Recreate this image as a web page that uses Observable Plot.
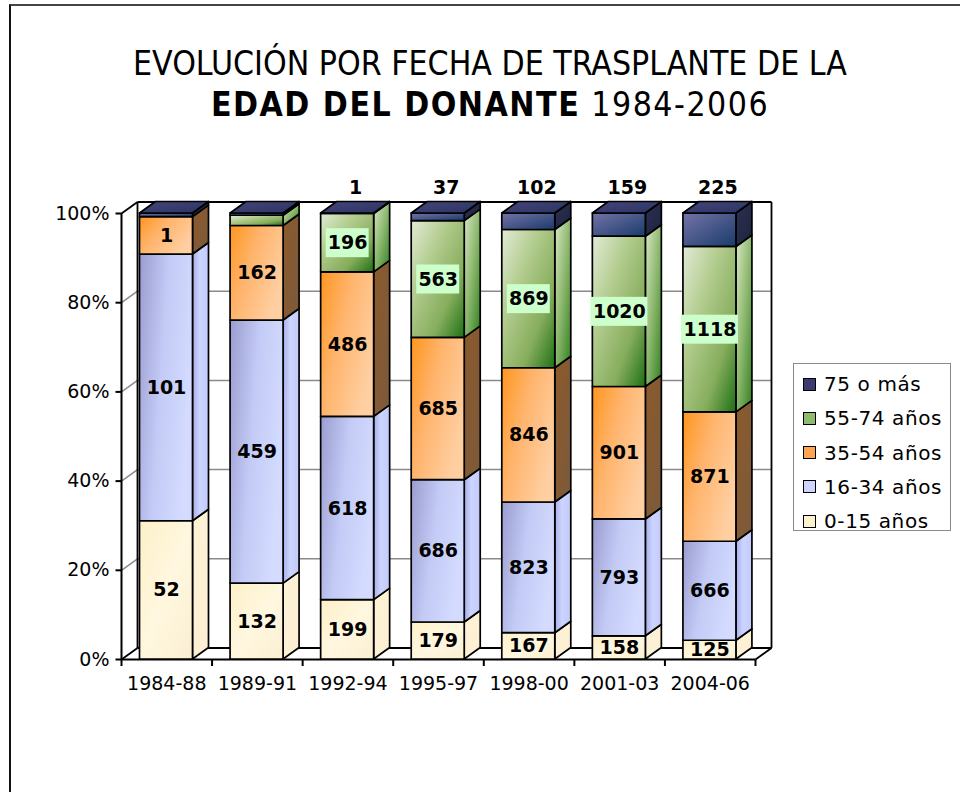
<!DOCTYPE html>
<html>
<head>
<meta charset="utf-8">
<script src="https://cdn.jsdelivr.net/npm/d3@7"></script>
<script src="https://cdn.jsdelivr.net/npm/@observablehq/plot@0.6"></script>
<style>
  body { margin: 0; background: #fff; }
  #page { position: relative; width: 960px; height: 792px; overflow: hidden; background: #fff; font-family: "DejaVu Sans", sans-serif; }
  #frame { position: absolute; left: 9px; top: 4px; width: 1200px; height: 1200px; border-left: 2px solid #111; border-top: 2px solid #444; }
  #title { position: absolute; left: 0; top: 43px; width: 980px; text-align: center; font-family: "Liberation Sans Narrow", "DejaVu Sans Condensed", "Liberation Sans", sans-serif; font-size: 33.5px; line-height: 41px; color: #000; }
  #title .l2 { letter-spacing: 1.5px; }
  #title b { font-weight: bold; }
  #chart { position: absolute; left: 0; top: 170px; }
  #legend { position: absolute; left: 793px; top: 363px; width: 158px; height: 168px; border: 1.5px solid #8a8a8a; box-sizing: border-box; background: #fff; }
  .item { position: absolute; left: 9px; height: 24px; display: flex; align-items: center; font-size: 20px; letter-spacing: 0.6px; color: #000; white-space: nowrap; }
  .sw { width: 13px; height: 13px; border: 1.5px solid #000; margin-right: 8px; box-sizing: border-box; }
</style>
</head>
<body>
<div id="page">
  <div id="frame"></div>
  <div id="title">EVOLUCIÓN POR FECHA DE TRASPLANTE DE LA<br><span class="l2"><b>EDAD DEL DONANTE</b> 1984-2006</span></div>
  <div id="chart"></div>
  <div id="legend"></div>
</div>
<script>
// ---------- DATA ----------
const periods = ["1984-88", "1989-91", "1992-94", "1995-97", "1998-00", "2001-03", "2004-06"];
const seriesNames = ["0-15 años", "16-34 años", "35-54 años", "55-74 años", "75 o más"];
// segment heights (% of column)
const pct0_15  = [31.0, 17.0, 13.3,  8.3,  5.9,  5.2,  4.2];
const pct16_34 = [59.8, 59.0, 41.1, 31.9, 29.3, 26.2, 22.2];
const pct35_54 = [ 8.4, 21.2, 32.4, 31.9, 30.1, 29.7, 29.0];
const pct55_74 = [ 0.0,  2.3, 13.1, 26.2, 31.0, 33.7, 37.1];
const pct75    = [ 0.8,  0.5,  0.1,  1.7,  3.7,  5.2,  7.5];
// data labels (donor counts) as printed
const n0_15  = [52, 132, 199, 179, 167, 158, 125];
const n16_34 = [101, 459, 618, 686, 823, 793, 666];
const n35_54 = [1, 162, 486, 685, 846, 901, 871];
const n55_74 = [null, null, 196, 563, 869, 1020, 1118];
const n75    = [null, null, 1, 37, 102, 159, 225];
const yTicks = [0, 20, 40, 60, 80, 100];
const yTickLabels = ["0%", "20%", "40%", "60%", "80%", "100%"];

// ---------- LAYOUT ----------
const W = 960, H = 600, ML = 121, MR = 205, MT = 43, MB = 111;
const N = periods.length;
const XPX = (W - ML - MR) / N;       // px per category
const YPX = (H - MT - MB) / 100;     // px per percent
const DX = 16 / XPX, DY = 11.5 / YPX; // 3D depth in data units
const BAR_OFF = 18.5 / XPX, BAR_W = 53 / XPX;

const pctSeries = [pct0_15, pct16_34, pct35_54, pct55_74, pct75];
const labelSeries = [n0_15, n16_34, n35_54, n55_74, n75];

const segs = [];
const tops = [];
periods.forEach((p, i) => {
  let acc = 0;
  pctSeries.forEach((arr, k) => {
    const v = arr[i];
    segs.push({i, k, y0: acc, y1: Math.min(100, acc + v), label: labelSeries[k][i], id: i + "-" + k});
    acc += v;
  });
  tops.push({i, top: Math.min(100, acc)});
});

const xl = s => s.i + BAR_OFF;
const xr = s => s.i + BAR_OFF + BAR_W;
const xc = s => s.i + BAR_OFF + BAR_W / 2;

const faceStroke = {stroke: "#000", strokeWidth: 1.7, strokeLinejoin: "round"};
const marks = [];

// back wall gridlines and side-wall diagonals
const inner = yTicks.filter(v => v > 0 && v < 100);
marks.push(Plot.link(inner, {x1: DX, x2: N + DX, y1: v => v + DY, y2: v => v + DY, stroke: "#8a8a8a", strokeWidth: 1.5}));
marks.push(Plot.link(inner, {x1: 0, y1: v => v, x2: DX, y2: v => v + DY, stroke: "#8a8a8a", strokeWidth: 1.5}));
// wall outline
const wall = [
  {x1: DX, y1: DY, x2: DX, y2: 100 + DY},
  {x1: DX, y1: 100 + DY, x2: N + DX, y2: 100 + DY},
  {x1: N + DX, y1: DY, x2: N + DX, y2: 100 + DY},
  {x1: DX, y1: DY, x2: N + DX, y2: DY},
  {x1: 0, y1: 0, x2: DX, y2: DY},
  {x1: 0, y1: 100, x2: DX, y2: 100 + DY},
  {x1: N, y1: 0, x2: N + DX, y2: DY}
];
marks.push(Plot.link(wall, {x1: "x1", y1: "y1", x2: "x2", y2: "y2", stroke: "#000", strokeWidth: 1.8}));
// front axes
marks.push(Plot.link([{x1: 0, y1: 0, x2: 0, y2: 100}, {x1: 0, y1: 0, x2: N, y2: 0}], {x1: "x1", y1: "y1", x2: "x2", y2: "y2", stroke: "#000", strokeWidth: 2}));
// ticks
marks.push(Plot.link(yTicks, {x1: -6 / XPX, x2: 0, y1: v => v, y2: v => v, stroke: "#000", strokeWidth: 2}));
marks.push(Plot.link(d3.range(N + 1), {x1: d => d, x2: d => d, y1: 0, y2: -6.5 / YPX, stroke: "#000", strokeWidth: 2}));
// tick labels
marks.push(Plot.text(yTicks, {x: 0, y: v => v, text: (v, j) => yTickLabels[j], dx: -12, textAnchor: "end", fontSize: 19, fill: "#000"}));
marks.push(Plot.text(periods, {x: (d, i) => i + 0.5, y: 0, text: d => d, dy: 24, fontSize: 19, fill: "#000"}));

// bars: side faces, then front faces, series by series
for (let k = 0; k < 5; k++) {
  const sk = segs.filter(s => s.k === k && s.y1 > s.y0);
  const sidePts = sk.flatMap(s => [
    {id: s.id, x: xr(s), ya: s.y0, yb: s.y1},
    {id: s.id, x: xr(s) + DX, ya: s.y0 + DY, yb: s.y1 + DY}
  ]);
  marks.push(Plot.areaY(sidePts, {x: "x", y1: "ya", y2: "yb", z: "id", fill: `url(#side${k})`, ...faceStroke}));
  marks.push(Plot.rect(sk, {x1: xl, x2: xr, y1: "y0", y2: "y1", fill: `url(#front${k})`, ...faceStroke}));
}
// top faces
const topPts = tops.flatMap(t => {
  const s = {i: t.i};
  return [
    {id: t.i, y: t.top, xa: xl(s), xb: xr(s)},
    {id: t.i, y: t.top + DY, xa: xl(s) + DX, xb: xr(s) + DX}
  ];
});
marks.push(Plot.areaX(topPts, {y: "y", x1: "xa", x2: "xb", z: "id", fill: "url(#topface)", ...faceStroke}));

// data labels
const lab = {fontSize: 19, fontWeight: "bold", fill: "#000"};
for (const k of [0, 1, 2]) {
  marks.push(Plot.text(segs.filter(s => s.k === k && s.label != null), {x: xc, y: s => (s.y0 + s.y1) / 2, text: s => String(s.label), ...lab}));
}
const green = segs.filter(s => s.k === 3 && s.label != null);
const bgW = s => (String(s.label).length * 14 + 1) / XPX / 2;
const bgH = 14.5 / YPX;
marks.push(Plot.rect(green, {x1: s => xc(s) - bgW(s), x2: s => xc(s) + bgW(s), y1: s => (s.y0 + s.y1) / 2 - bgH, y2: s => (s.y0 + s.y1) / 2 + bgH, fill: "#ccffcc"}));
marks.push(Plot.text(green, {x: xc, y: s => (s.y0 + s.y1) / 2, text: s => String(s.label), ...lab}));
marks.push(Plot.text(segs.filter(s => s.k === 4 && s.label != null), {x: s => xc(s) + DX / 2, y: 100, dy: -26, text: s => String(s.label), ...lab}));

const svg = Plot.plot({
  width: W, height: H,
  marginLeft: ML, marginRight: MR, marginTop: MT, marginBottom: MB,
  x: {type: "linear", domain: [0, N], axis: null},
  y: {type: "linear", domain: [0, 100], axis: null},
  style: {fontFamily: "DejaVu Sans, sans-serif", fontSize: "19px", background: "transparent", overflow: "visible"},
  marks
});

// gradients
const defs = d3.select(svg).insert("defs", ":first-child");
function grad(id, x2, y2, stops) {
  const g = defs.append("linearGradient").attr("id", id).attr("x1", 0).attr("y1", 0).attr("x2", x2).attr("y2", y2);
  stops.forEach(([o, c]) => g.append("stop").attr("offset", o).attr("stop-color", c));
}
grad("front0", 1, 1, [[0, "#fdf0c8"], [0.5, "#fff7df"], [1, "#fbefd2"]]);
grad("front1", 1, 0.35, [[0, "#9a9ccf"], [0.5, "#c3caf5"], [1, "#d4dbff"]]);
grad("front2", 1, 0.6, [[0, "#ff951e"], [0.45, "#ffb46c"], [1, "#ffcfa2"]]);
grad("front3", 1, 1, [[0, "#e2ebd6"], [0.35, "#b2cc8e"], [0.7, "#86ad5c"], [1, "#1d7016"]]);
grad("front4", 1, 1, [[0, "#7474a6"], [1, "#1a3a6c"]]);
grad("side0", 1, 1, [[0, "#fff3d6"], [1, "#fbeed4"]]);
grad("side1", 1, 0, [[0, "#a6aee8"], [0.45, "#ccd4ff"], [1, "#c2cafa"]]);
grad("side2", 1, 1, [[0, "#8c5a2c"], [1, "#7b5a3c"]]);
grad("side3", 1, 1, [[0, "#dce8c8"], [0.5, "#8cb86e"], [1, "#327f22"]]);
grad("side4", 1, 1, [[0, "#2f2f52"], [1, "#1b2440"]]);
grad("topface", 1, 1, [[0, "#45457a"], [1, "#2a3462"]]);
document.getElementById("chart").appendChild(svg);

// legend
const swatchColors = ["#fdf1cf", "#ccd4ff", "#ffa552", "#8fbb6c", "#3b3b70"];
const legend = document.getElementById("legend");
[4, 3, 2, 1, 0].forEach((k, r) => {
  const it = document.createElement("div");
  it.className = "item";
  it.style.top = (8 + r * 34.3) + "px";
  const sw = document.createElement("div");
  sw.className = "sw";
  sw.style.background = swatchColors[k];
  it.appendChild(sw);
  const t = document.createElement("span");
  t.textContent = seriesNames[k];
  it.appendChild(t);
  legend.appendChild(it);
});
</script>
</body>
</html>
